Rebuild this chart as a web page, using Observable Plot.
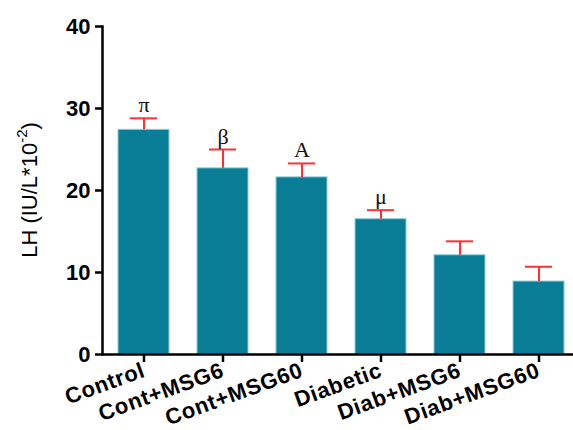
<!DOCTYPE html>
<html>
<head>
<meta charset="utf-8">
<script src="https://cdn.jsdelivr.net/npm/d3@7"></script>
<script src="https://cdn.jsdelivr.net/npm/@observablehq/plot@0.6"></script>
<style>
  html, body { margin: 0; padding: 0; background: #fff; }
  #chart { width: 573px; height: 430px; }
  #chart g[aria-label="x-axis tick label"] text { letter-spacing: 0.7px; }
</style>
</head>
<body>
<div id="chart"></div>
<script>
const categories = ["Control", "Cont+MSG6", "Cont+MSG60", "Diabetic", "Diab+MSG6", "Diab+MSG60"];
const means = [27.4, 22.7, 21.6, 16.5, 12.1, 8.9];
const sems = [1.4, 2.3, 1.7, 1.1, 1.7, 1.8];
const sigLabels = ["π", "β", "A", "μ", "", ""];
const yTicks = [0, 10, 20, 30, 40];

const data = categories.map((c, i) => ({
  group: c, mean: means[i], top: means[i] + sems[i], sig: sigLabels[i]
}));

const plot = Plot.plot({
  width: 573,
  height: 430,
  marginLeft: 102,
  marginRight: 0,
  marginTop: 26,
  marginBottom: 76,
  style: { fontFamily: "'Liberation Sans', Arial, sans-serif", background: "#fff", overflow: "visible" },
  x: { domain: categories, range: [102, 580], paddingInner: 0.357, paddingOuter: 0.19, label: null },
  y: { domain: [0, 40], label: null },
  marks: [
    Plot.barY(data, { x: "group", y: "mean", fill: "#087d95", stroke: "#8fcbd6", strokeWidth: 1 }),
    Plot.ruleX(data, { x: "group", y1: "mean", y2: "top", stroke: "#ff3030", strokeWidth: 2 }),
    Plot.tickY(data, { x: "group", y: "top", stroke: "#ff3030", strokeWidth: 2, insetLeft: 12, insetRight: 12 }),
    Plot.text(data, { x: "group", y: "top", text: "sig", dy: -6, lineAnchor: "bottom",
      fontFamily: "'Liberation Serif', 'Times New Roman', serif", fontSize: 22, fill: "#111" }),
    Plot.axisY({ ticks: yTicks, tickSize: 7, tickPadding: 5, fontSize: 22, fontWeight: "bold",
      strokeWidth: 2.5, label: null, tickFormat: d3.format("d") }),
    Plot.axisX({ tickSize: 8, tickPadding: 7, tickRotate: -20, fontSize: 22, fontWeight: "bold",
      strokeWidth: 2.5, label: null }),
    Plot.ruleY([0], { stroke: "#000", strokeWidth: 2.5 }),
    Plot.frame({ anchor: "left", stroke: "#000", strokeWidth: 2.5 })
  ]
});

document.getElementById("chart").appendChild(plot);

// Y-axis title with superscript
const svg = d3.select(plot);
const yScale = plot.scale("y");
const cy = (yScale.apply(0) + yScale.apply(40)) / 2;
const t = svg.append("text")
  .attr("transform", `translate(37,${cy}) rotate(-90)`)
  .attr("text-anchor", "middle")
  .attr("font-family", "'Liberation Sans', Arial, sans-serif")
  .attr("font-size", 22)
  .attr("fill", "#000");
t.append("tspan").text("LH (IU/L*10");
t.append("tspan").attr("font-size", 15).attr("dy", -10).text("-2");
t.append("tspan").attr("dy", 10).text(")");
</script>
</body>
</html>
